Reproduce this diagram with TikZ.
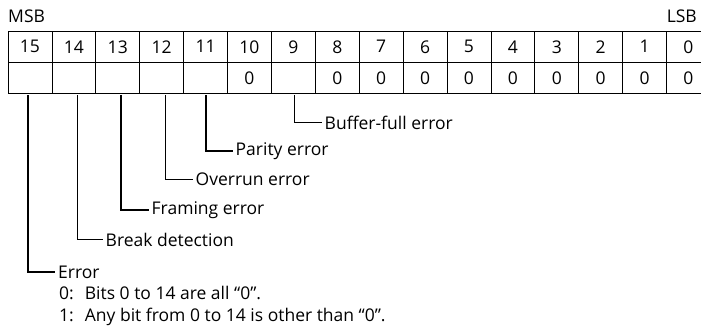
\documentclass[tikz,border=0pt]{standalone}
\usepackage{fontspec}
\setmainfont{Open Sans}
\begin{document}
\begin{tikzpicture}[x=1pt,y=-1pt,
  font=\fontsize{17.5}{21}\selectfont,
  cellbox/.style={draw, line width=0.8pt, minimum width=43.9pt, minimum height=31pt, inner sep=0pt, anchor=center},
  leader/.style={line width=1.5pt},
  lbl/.style={anchor=west, inner sep=3pt}]
\useasboundingbox (0,0) rectangle (701,327);
\clip (0,0) rectangle (701,327);
\node[anchor=west, inner sep=0pt] (msb) at (8,16) {MSB};
\node[anchor=east, inner sep=0pt] (lsb) at (697,16) {LSB};
\foreach \k in {0,...,15}{
  \pgfmathtruncatemacro{\b}{15-\k}
  \node[cellbox] (top-\b) at ({8+43.9*(\k+0.5)},46.75) {\b};
}
\foreach \k/\v in {0/,1/,2/,3/,4/,5/0,6/,7/0,8/0,9/0,10/0,11/0,12/0,13/0,14/0,15/0}{
  \pgfmathtruncatemacro{\b}{15-\k}
  \node[cellbox] (bot-\b) at ({8+43.9*(\k+0.5)},78) {\v};
}
% leader start points
\coordinate (l15) at (28,95);
\coordinate (l14) at (77.5,95);
\coordinate (l13) at (121,95);
\coordinate (l12) at (165.5,95);
\coordinate (l11) at (206,95);
\coordinate (l9) at (294.5,95);
% labels
\node[lbl] (t9) at (321.5,122.5) {Buffer-full error};
\node[lbl] (t11) at (232.5,151) {Parity error};
\node[lbl] (t12) at (192.5,179.5) {Overrun error};
\node[lbl] (t13) at (148.5,210) {Framing error};
\node[lbl] (t14) at (102.5,239.5) {Break detection};
\node[lbl] (t15) at (55,272) {Error};
\node[anchor=north west, inner sep=0pt, align=left] (t15b) at (59,284.5)
  {\begin{tabular}{@{}l@{\hspace{11pt}}l@{}}0: & Bits 0 to 14 are all “0”.\\[1pt]
   1: & Any bit from 0 to 14 is other than “0”.\end{tabular}};
\foreach \b in {9,11,12,13,14,15}{
  \draw[leader] (l\b) |- (t\b.west);
}
\end{tikzpicture}
\end{document}
